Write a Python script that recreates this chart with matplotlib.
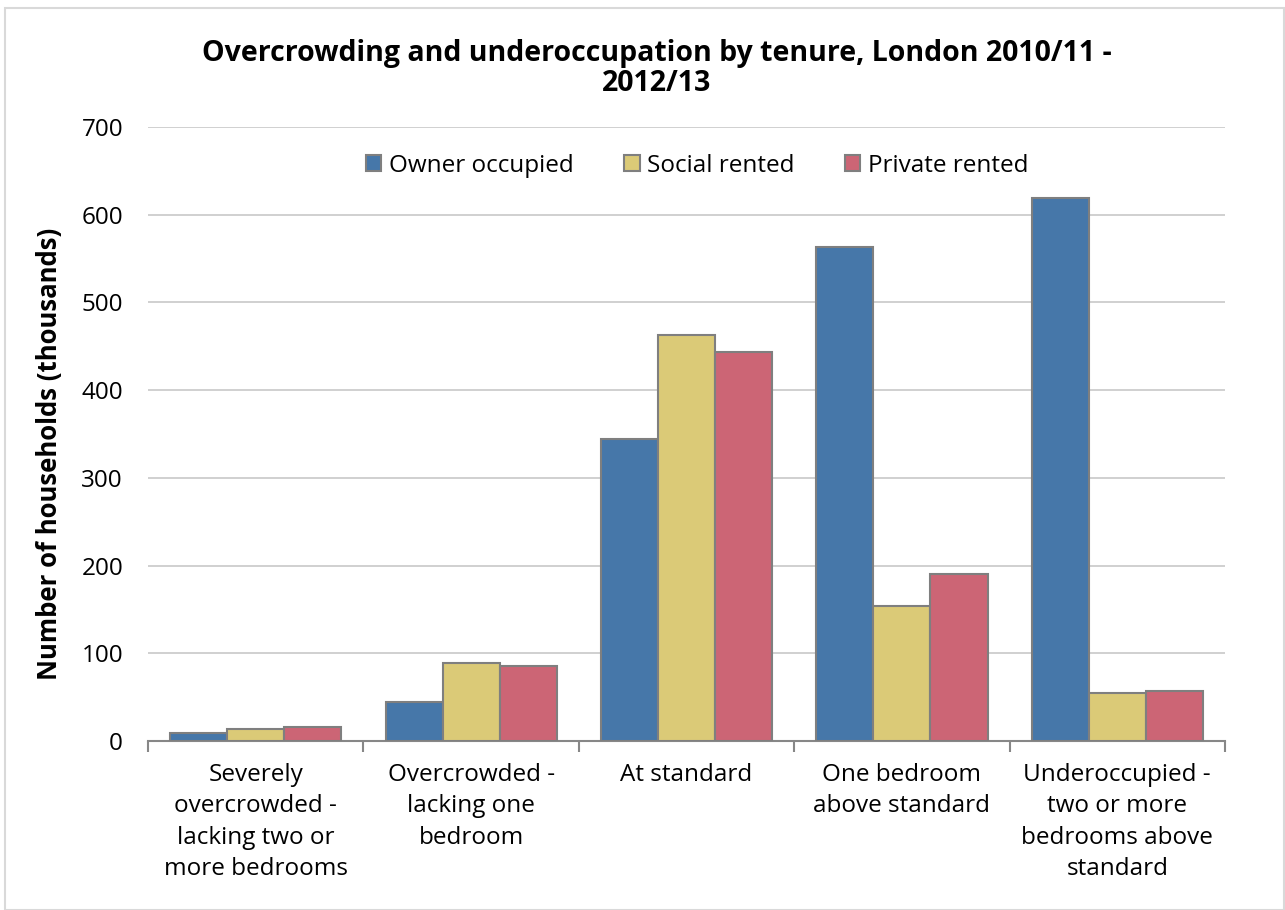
import numpy as np
import matplotlib.pyplot as plt
from matplotlib.patches import Rectangle

categories = ["Severely\novercrowded -\nlacking two or\nmore bedrooms",
              "Overcrowded -\nlacking one\nbedroom",
              "At standard",
              "One bedroom\nabove standard",
              "Underoccupied -\ntwo or more\nbedrooms above\nstandard"]
owner = [9, 44.5, 344, 563, 619]
social = [14, 89, 463, 154, 55]
private = [16, 85.5, 443.5, 190, 57]
series_names = ["Owner occupied", "Social rented", "Private rented"]
series_colors = ["#4677a9", "#dbca77", "#cc6575"]

plt.rcParams['font.family'] = ['Open Sans', 'DejaVu Sans']

fig = plt.figure(figsize=(12.85, 9.10), dpi=100)
ax = fig.add_axes([0.1152, 0.1857, 0.8381, 0.6747])

x = np.arange(len(categories))
w = 0.265
for i, (vals, name, col) in enumerate(zip([owner, social, private], series_names, series_colors)):
    ax.bar(x + (i - 1) * w, vals, w, color=col, edgecolor="#7f7f7f", linewidth=1.5,
           label=name, zorder=3)

ax.set_xlim(-0.5, len(categories) - 0.5)
ax.set_ylim(0, 700)
ax.set_yticks(range(0, 701, 100))
ax.yaxis.grid(True, color="#c8c8c8", linewidth=1.2, zorder=0)
ax.set_axisbelow(True)
for s in ["top", "right", "left"]:
    ax.spines[s].set_visible(False)
ax.spines["bottom"].set_color("#878787")
ax.spines["bottom"].set_linewidth(1.5)
ax.tick_params(axis="y", length=0, labelsize=17.5, pad=18)
ax.set_xticks(np.arange(-0.5, len(categories)), minor=False)
ax.set_xticklabels([])
ax.set_xticks(x, minor=True)
ax.set_xticklabels(categories, minor=True, fontsize=17.5, linespacing=1.4)
ax.tick_params(axis="x", which="major", length=8, width=1.5, color="#878787")
ax.tick_params(axis="x", which="minor", length=0, pad=16)

ax.set_ylabel("Number of households (thousands)", fontsize=18.5, fontweight="bold")
ax.yaxis.set_label_coords(-0.079, 0.468)
fig.suptitle("Overcrowding and underoccupation by tenure, London 2010/11 -\n2012/13",
             fontsize=20.5, fontweight="bold", x=0.511, y=0.957, linespacing=1.05)

ax.legend(loc="center", bbox_to_anchor=(0.51, 0.937), ncol=3, frameon=False,
          fontsize=17.5, handlelength=0.62, handleheight=0.62, handletextpad=0.3,
          columnspacing=2.1)

fig.patches.append(Rectangle((0.004, 0.0), 0.995, 0.991, transform=fig.transFigure,
                             fill=False, edgecolor="#d9d9d9", linewidth=1.5))

fig.savefig("out.png", dpi=100)
